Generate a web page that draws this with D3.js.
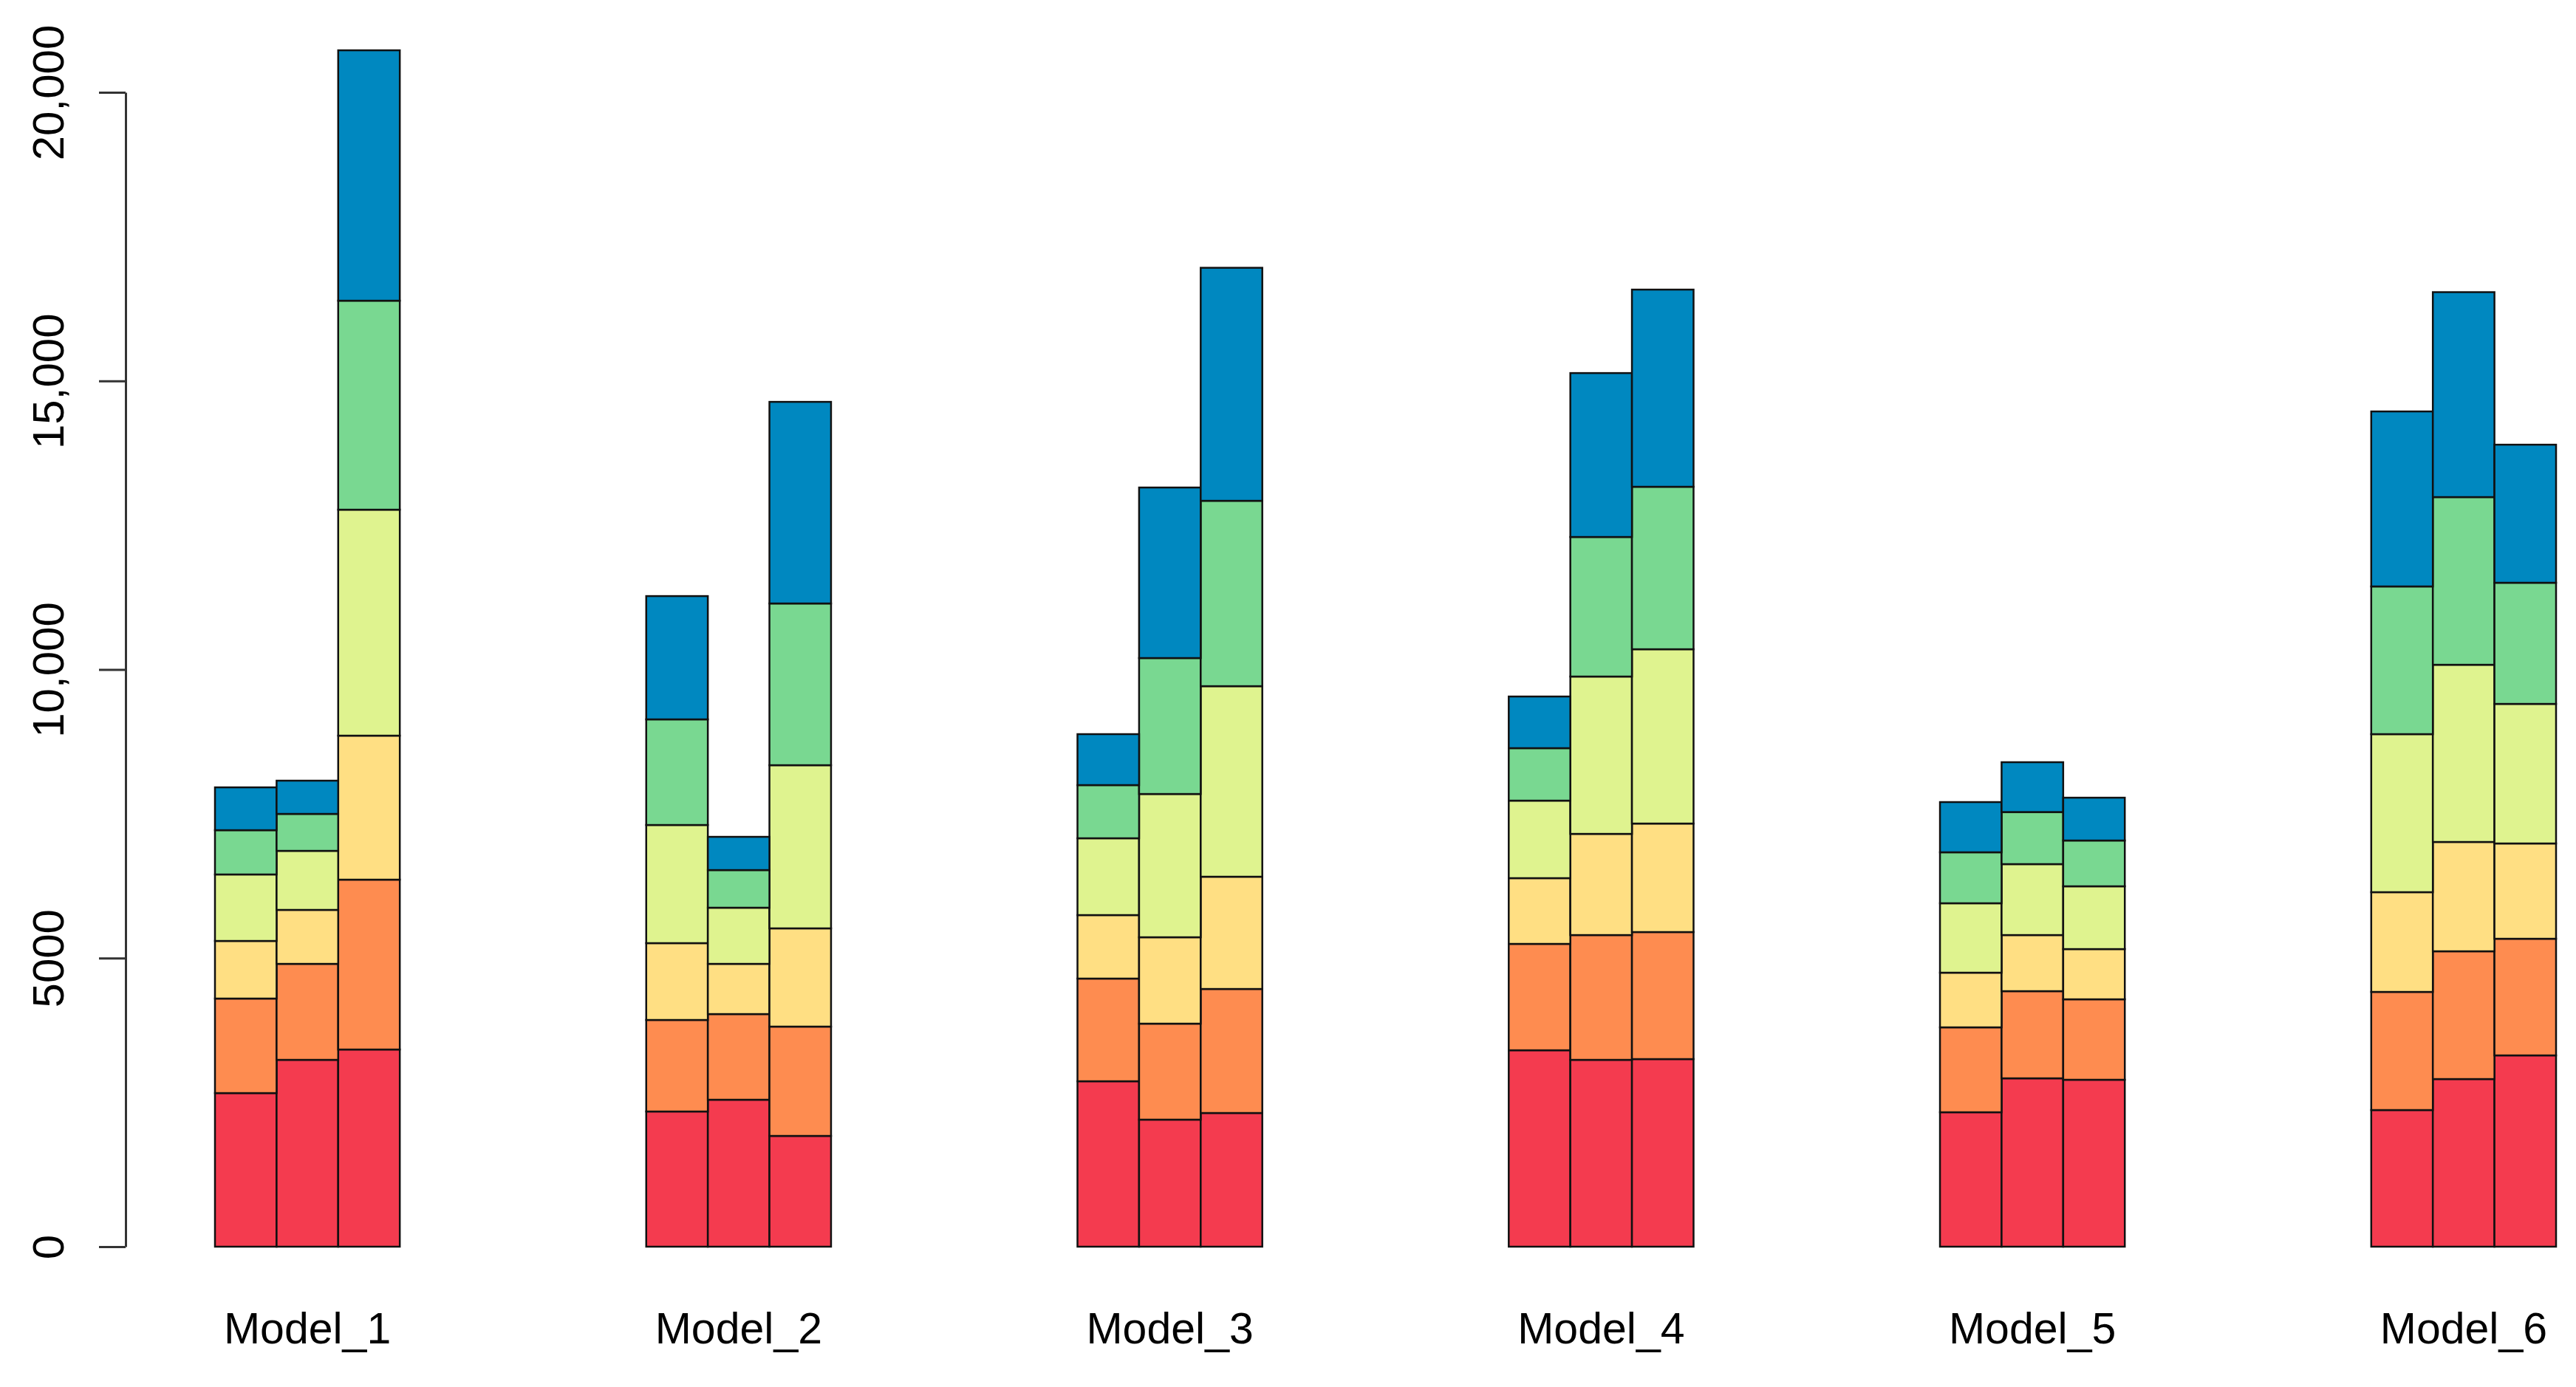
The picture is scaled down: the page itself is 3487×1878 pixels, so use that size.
<!DOCTYPE html>
<html>
<head>
<meta charset="utf-8">
<script src="https://cdn.jsdelivr.net/npm/d3@7"></script>
<style>
  html, body { margin: 0; padding: 0; background: #fff; }
  svg { display: block; font-family: "Liberation Sans", Arial, sans-serif; }
</style>
</head>
<body>
<svg id="chart" width="3487" height="1878"></svg>
<script>
// groups on the x axis, three stacked bars each
const models = ['Model_1', 'Model_2', 'Model_3', 'Model_4', 'Model_5', 'Model_6'];
const barsPerModel = 3;

// one array per stack layer (bottom to top), 3 values per model in model order
const layer1 = [2661, 3237, 3416,  2342, 2546, 1919,  2866, 2201, 2316,  3403, 3237, 3250,  2329, 2917, 2892,  2367, 2904, 3314];
const layer2 = [1638, 1663, 2943,  1586, 1484, 1894,  1779, 1663, 2149,  1843, 2162, 2201,  1471, 1510, 1394,  2047, 2214, 2021];
const layer3 = [ 998,  935, 2495,  1331,  870, 1702,  1100, 1497, 1945,  1139, 1753, 1880,   947,  972,  870,  1728, 1894, 1651];
const layer4 = [1152, 1023, 3915,  2047,  973, 2827,  1331, 2482, 3301,  1343, 2726, 3020,  1203, 1229, 1088,  2738, 3070, 2418];
const layer5 = [ 767,  640, 3621,  1830,  652, 2802,   921, 2355, 3212,   909, 2418, 2815,   883,  902,  793,  2559, 2905, 2099];
const layer6 = [ 742,  576, 4338,  2136,  576, 3493,   883, 2955, 4037,   895, 2840, 3416,   870,  864,  742,  3032, 3551, 2392];

const layers = [layer1, layer2, layer3, layer4, layer5, layer6];
const layerColors = ['#F43B4F', '#FE8C50', '#FFDF83', '#DFF38F', '#79D891', '#0088C0'];

const yTicks = [0, 5000, 10000, 15000, 20000];
const yTickLabels = ['0', '5000', '10,000', '15,000', '20,000'];

const svg = d3.select('#chart');
const groupGap = 4; // in bar widths

// bar slot -> x position (units of one bar width)
const slot = i => Math.floor(i / barsPerModel) * (barsPerModel + groupGap) + (i % barsPerModel);
const nUnits = (models.length - 1) * (barsPerModel + groupGap) + barsPerModel;

const x = d3.scaleLinear().domain([0, nUnits]).range([291, 3460]);
const y = d3.scaleLinear().domain([0, 20000]).range([1688, 125]);

// stack the layers per bar
const barData = layer1.map((_, i) => {
  const row = { i };
  layers.forEach((l, k) => { row['L' + k] = l[i]; });
  return row;
});
const stack = d3.stack().keys(layers.map((_, k) => 'L' + k));
const series = stack(barData);

const g = svg.append('g');
g.selectAll('g.layer')
  .data(series)
  .join('g')
  .attr('class', 'layer')
  .attr('fill', (d, k) => layerColors[k])
  .selectAll('rect')
  .data(d => d)
  .join('rect')
  .attr('x', d => x(slot(d.data.i)))
  .attr('width', x(1) - x(0))
  .attr('y', d => y(d[1]))
  .attr('height', d => y(d[0]) - y(d[1]))
  .attr('stroke', '#111')
  .attr('stroke-width', 2.5);

// y axis, R style
const yAxis = d3.axisLeft(y)
  .tickValues(yTicks)
  .tickFormat((d, i) => yTickLabels[i])
  .tickSize(36)
  .tickSizeOuter(0);

const ag = svg.append('g')
  .attr('transform', 'translate(170,0)')
  .call(yAxis);
ag.select('.domain').attr('stroke', '#333').attr('stroke-width', 3);
ag.selectAll('.tick line').attr('stroke', '#333').attr('stroke-width', 3);
ag.selectAll('.tick text')
  .attr('x', null).attr('dy', null)
  .attr('transform', 'translate(-84,0) rotate(-90)')
  .attr('text-anchor', 'middle')
  .attr('fill', '#000')
  .style('font-size', '60px')
  .style('font-family', '"Liberation Sans", Arial, sans-serif');

// model labels under each group
svg.append('g')
  .selectAll('text')
  .data(models)
  .join('text')
  .attr('x', (d, m) => x(m * (barsPerModel + groupGap) + barsPerModel / 2))
  .attr('y', 1819)
  .attr('text-anchor', 'middle')
  .style('font-size', '59px')
  .text(d => d);
</script>
</body>
</html>
